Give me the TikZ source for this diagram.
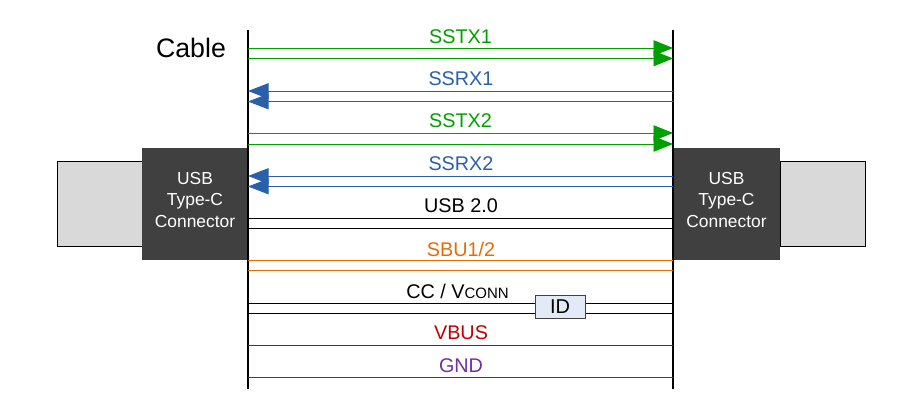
\documentclass[tikz,border=0pt]{standalone}
\usepackage{fontspec}
\setmainfont{Liberation Sans}
\usepackage{tikz}
\usetikzlibrary{arrows.meta}
\definecolor{sigGreen}{RGB}{0, 160, 0}
\definecolor{sigBlue}{RGB}{42, 96, 170}
\definecolor{sigOrange}{RGB}{227, 108, 10}
\definecolor{sigRed}{RGB}{192, 0, 0}
\definecolor{sigPurple}{RGB}{112, 48, 160}
\definecolor{plugDark}{RGB}{64, 64, 64}
\definecolor{plugGray}{RGB}{217, 217, 217}
\definecolor{idFill}{RGB}{226, 234, 246}
\tikzset{
  wire/.style={line width=0.9pt},
  toright/.style={wire, -{Triangle[length=19.5pt,width=15.5pt]}},
  toleft/.style={wire, -{Triangle[length=20.5pt,width=15.5pt]}},
  siglabel/.style={font=\fontsize{19.8}{22}\selectfont, inner sep=0pt},
  plug/.style={draw=black, line width=0.9pt, fill=plugGray, minimum width=85pt, minimum height=85pt, inner sep=0pt},
  connbox/.style={fill=plugDark, text=white, align=center, minimum width=106pt, minimum height=112pt, inner sep=0pt,
    font=\fontsize{17.4}{21.3}\selectfont},
  idbox/.style={draw=plugDark, line width=0.9pt, fill=idFill, minimum width=50pt, minimum height=23pt, inner sep=0pt,
    font=\fontsize{20}{22}\selectfont}
}
\begin{document}
\begin{tikzpicture}[x=1pt, y=-1pt]
  \useasboundingbox (0,0) rectangle (900,403);
  % plugs and connectors
  \node[plug] (plugL) at (99.5,203.5) {};
  \node[plug] (plugR) at (822.5,203.5) {};
  \node[connbox] (connL) at (195,204) {};
  \node[connbox] (connR) at (726.5,204) {};
  \node[connbox, minimum height=0pt, fill=none] (textL) at (195,200) {USB\\Type-C\\Connector};
  \node[connbox, minimum height=0pt, fill=none] (textR) at (726.5,200) {USB\\Type-C\\Connector};
  % the cable ends
  \coordinate (railL) at (248,30);
  \coordinate (railLb) at (248,389);
  \coordinate (railR) at (673,30);
  \coordinate (railRb) at (673,389);
  \draw[line width=1.5pt] (railL) -- (railLb);
  \draw[line width=1.5pt] (railR) -- (railRb);
  \node[font=\fontsize{26.7}{30}\selectfont, inner sep=0pt] (cable) at (191,48) {Cable};
  % signal rows
  \coordinate (txOneA) at (248,48);
  \coordinate (txOneB) at (248,58.5);
  \coordinate (rxOneA) at (248,91);
  \coordinate (rxOneB) at (248,101.5);
  \coordinate (txTwoA) at (248,133);
  \coordinate (txTwoB) at (248,144);
  \coordinate (rxTwoA) at (248,176);
  \coordinate (rxTwoB) at (248,186.5);
  \coordinate (usbA) at (248,218);
  \coordinate (usbB) at (248,228.5);
  \coordinate (sbuA) at (248,260.5);
  \coordinate (sbuB) at (248,270.7);
  \coordinate (ccA) at (248,303);
  \coordinate (ccB) at (248,313.5);
  \coordinate (vbus) at (248,345.5);
  \coordinate (gnd) at (248,377.5);
  \draw[toright, sigGreen] (txOneA) -- (txOneA -| railR);
  \draw[toright, sigGreen] (txOneB) -- (txOneB -| railR);
  \draw[toleft, sigBlue] (rxOneA -| railR) -- (rxOneA);
  \draw[toleft, sigBlue] (rxOneB -| railR) -- (rxOneB);
  \draw[toright, sigGreen] (txTwoA) -- (txTwoA -| railR);
  \draw[toright, sigGreen] (txTwoB) -- (txTwoB -| railR);
  \draw[toleft, sigBlue] (rxTwoA -| railR) -- (rxTwoA);
  \draw[toleft, sigBlue] (rxTwoB -| railR) -- (rxTwoB);
  \draw[wire] (usbA) -- (usbA -| railR);
  \draw[wire] (usbB) -- (usbB -| railR);
  \draw[wire, sigOrange] (sbuA) -- (sbuA -| railR);
  \draw[wire, sigOrange] (sbuB) -- (sbuB -| railR);
  \draw[wire] (ccA) -- (ccA -| railR);
  \draw[wire] (ccB) -- (ccB -| railR);
  \draw[wire, sigRed] (vbus) -- (vbus -| railR);
  \draw[wire, plugDark] (gnd) -- (gnd -| railR);
  \node[idbox] (id) at (560,306.5) {ID};
  % labels
  \node[siglabel, sigGreen] (txOneT) at (460.5,37) {SSTX1};
  \node[siglabel, sigBlue] (rxOneT) at (461,79) {SSRX1};
  \node[siglabel, sigGreen] (txTwoT) at (460.5,121) {SSTX2};
  \node[siglabel, sigBlue] (rxTwoT) at (461,164) {SSRX2};
  \node[siglabel] (usbT) at (461,206) {USB 2.0};
  \node[siglabel, sigOrange] (sbuT) at (461,249) {SBU1/2};
  \node[siglabel] (ccT) at (457.5,291) {CC / V{\fontsize{15}{16}\selectfont CONN}};
  \node[siglabel, sigRed] (vbusT) at (461,333) {VBUS};
  \node[siglabel, sigPurple] (gndT) at (461,366) {GND};
\end{tikzpicture}
\end{document}
